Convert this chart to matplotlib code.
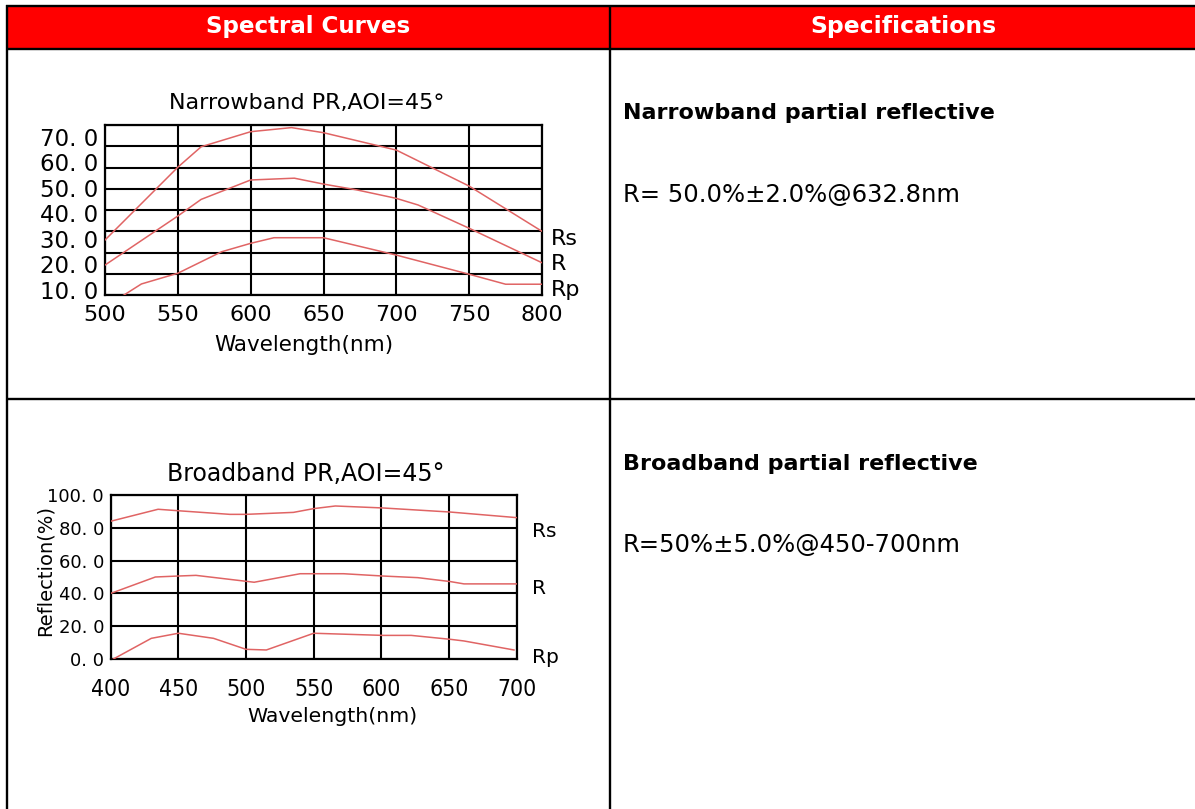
import matplotlib
matplotlib.use("Agg")
import matplotlib.pyplot as plt
from matplotlib.patches import Rectangle
import numpy as np

W, H = 1195, 809

# ---- narrowband PR, AOI=45 ----
nb_rs_x = [500, 550, 566, 600, 628, 650, 700, 750, 800]
nb_rs = [29.5, 58.0, 66.0, 71.9, 73.5, 71.5, 64.7, 50.6, 32.9]
nb_r_x = [500, 550, 566, 600, 630, 650, 673, 700, 715, 750, 800]
nb_r = [19.7, 38.9, 45.4, 53.0, 53.7, 51.4, 49.1, 45.8, 43.2, 34.1, 20.6]
nb_rp_x = [512, 525, 550, 580, 600, 616, 650, 700, 750, 775, 800]
nb_rp = [7.6, 12.3, 16.5, 24.9, 28.2, 30.4, 30.4, 23.6, 16.1, 12.2, 12.2]

nb_xticks = [500, 550, 600, 650, 700, 750, 800]
nb_yticks = [10, 20, 30, 40, 50, 60, 70]
nb_yticklabels = ["10. 0", "20. 0", "30. 0", "40. 0", "50. 0", "60. 0", "70. 0"]
nb_ylim = (7.98, 74.52)
nb_label_y = [30, 20, 10]

# ---- broadband PR, AOI=45 ----
bb_rs_x = [400, 435, 450, 488, 500, 535, 550, 566, 601, 651, 700]
bb_rs = [84.0, 91.3, 90.4, 88.2, 88.2, 89.4, 91.7, 93.3, 92.1, 89.6, 86.2]
bb_r_x = [400, 433, 450, 463, 506, 540, 572, 601, 627, 651, 661, 700]
bb_r = [40.0, 50.0, 50.6, 51.0, 46.8, 52.0, 52.0, 50.6, 49.6, 47.2, 45.8, 45.8]
bb_rp_x = [402, 430, 450, 476, 500, 515, 550, 601, 622, 651, 661, 698]
bb_rp = [0.0, 12.6, 15.7, 12.6, 5.9, 5.5, 15.7, 14.4, 14.4, 12.0, 11.0, 5.5]

bb_xticks = [400, 450, 500, 550, 600, 650, 700]
bb_yticks = [0, 20, 40, 60, 80, 100]
bb_yticklabels = ["0. 0", "20. 0", "40. 0", "60. 0", "80. 0", "100. 0"]
bb_label_y = [78, 43, 1.2]

series_names = ["Rs", "R", "Rp"]

header_labels = ["Spectral Curves", "Specifications"]
spec_titles = ["Narrowband partial reflective", "Broadband partial reflective"]
spec_values = ["R= 50.0%\u00b12.0%@632.8nm", "R=50%\u00b15.0%@450-700nm"]

CURVE_RED = "#e06464"
HEADER_RED = "#ff0000"


def px_axes(fig, left, top, right, bottom):
    # axes box given in picture pixels (origin top-left)
    return fig.add_axes([left / W, 1 - bottom / H, (right - left) / W, (bottom - top) / H])


def style_chart(ax):
    for s in ax.spines.values():
        s.set_linewidth(1.6)
        s.set_color("black")
    ax.tick_params(which="both", length=0)
    ax.set_facecolor("white")


fig = plt.figure(figsize=(W / 100, H / 100), dpi=100)

# ---- table background ----
bg = fig.add_axes([0, 0, 1, 1])
bg.set_xlim(0, W)
bg.set_ylim(H, 0)
bg.axis("off")

bg.add_patch(Rectangle((7, 6), W - 7, 43, facecolor=HEADER_RED, lw=0))
table_lines = [((6, W), (6, 6)), ((7, W), (49, 49)), ((7, W), (399, 399)),
               ((7, 7), (5, H)), ((610, 610), (5, H))]
for xs, ys in table_lines:
    bg.plot(xs, ys, color="black", lw=1.7, solid_capstyle="butt")

bg.text(308, 33, header_labels[0], ha="center", va="baseline", color="white",
        fontsize=16.6, fontweight="bold")
bg.text(903, 33, header_labels[1], ha="center", va="baseline", color="white",
        fontsize=16.9, fontweight="bold")

bg.text(623, 119, spec_titles[0], ha="left", va="baseline", fontsize=16, fontweight="bold")
bg.text(623, 202, spec_values[0], ha="left", va="baseline", fontsize=17.5)
bg.text(623, 470, spec_titles[1], ha="left", va="baseline", fontsize=16, fontweight="bold")
bg.text(623, 552, spec_values[1], ha="left", va="baseline", fontsize=17.5)

# ---------------- chart 1: narrowband ----------------
ax1 = px_axes(fig, 105, 125, 542, 295)
style_chart(ax1)
for xs, ys in [(nb_rs_x, nb_rs), (nb_r_x, nb_r), (nb_rp_x, nb_rp)]:
    ax1.plot(xs, ys, color=CURVE_RED, lw=1.1, zorder=3)
ax1.set_xlim(500, 800)
ax1.set_ylim(*nb_ylim)
ax1.set_xticks(nb_xticks)
ax1.set_yticks(nb_yticks, nb_yticklabels)
ax1.set_yticks(np.linspace(nb_ylim[0], nb_ylim[1], 9), minor=True)
ax1.grid(True, axis="x", which="major", color="black", lw=1.5)
ax1.grid(True, axis="y", which="minor", color="black", lw=1.5)
ax1.tick_params(axis="x", labelsize=16, pad=7.5)
ax1.tick_params(axis="y", labelsize=16.5, pad=5)
for name, ly in zip(series_names, nb_label_y):
    ax1.annotate(name, xy=(1, ly), xycoords=("axes fraction", "data"), xytext=(9, 0),
                 textcoords="offset pixels", ha="left", va="center", fontsize=16)
bg.text(307, 109, "Narrowband PR,AOI=45\u00b0", ha="center", va="baseline", fontsize=16)
bg.text(304, 345, "Wavelength(nm)", ha="center", va="center", fontsize=15.5)

# ---------------- chart 2: broadband ----------------
ax2 = px_axes(fig, 110.7, 495, 516.7, 659)
style_chart(ax2)
for xs, ys in [(bb_rs_x, bb_rs), (bb_r_x, bb_r), (bb_rp_x, bb_rp)]:
    ax2.plot(xs, ys, color=CURVE_RED, lw=1.1, zorder=3)
ax2.set_xlim(400, 700)
ax2.set_ylim(0, 100)
# the x numbers in this chart use a tall, narrow face
ax2.set_xticks(bb_xticks, [str(v) for v in bb_xticks], fontstretch="condensed")
ax2.set_yticks(bb_yticks, bb_yticklabels)
ax2.grid(True, which="major", color="black", lw=1.5)
ax2.tick_params(axis="x", labelsize=16.5, pad=13.4)
ax2.tick_params(axis="y", labelsize=13, pad=4.8)
ax2.set_ylabel("Reflection(%)", fontsize=14)
ax2.yaxis.set_label_coords(-0.137, 0.537)
for name, ly in zip(series_names, bb_label_y):
    ax2.annotate(name, xy=(1, ly), xycoords=("axes fraction", "data"), xytext=(15, 0),
                 textcoords="offset pixels", ha="left", va="center", fontsize=14.5)
bg.text(306, 481, "Broadband PR,AOI=45\u00b0", ha="center", va="baseline", fontsize=17)
bg.text(332, 717, "Wavelength(nm)", ha="center", va="center", fontsize=14.7)

fig.savefig("out.png", dpi=100)
